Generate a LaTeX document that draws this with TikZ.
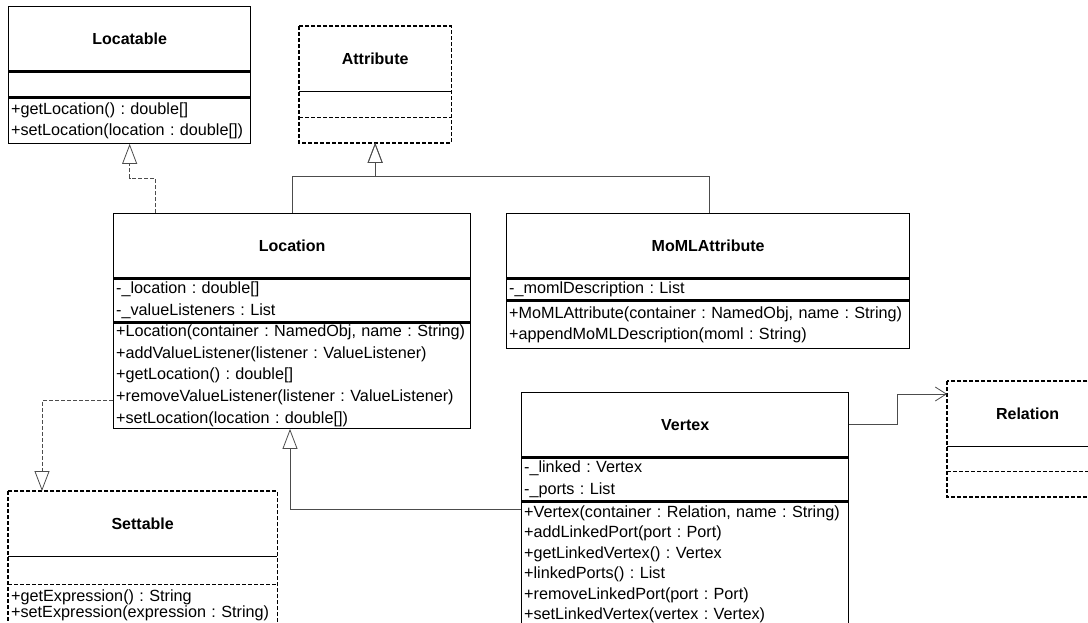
\documentclass[tikz,border=0pt]{standalone}
\usepackage{fontspec}
\setmainfont{Liberation Sans}
\usetikzlibrary{arrows.meta}
\frenchspacing

\begin{document}
\begin{tikzpicture}[x=1pt, y=-1pt,
  every node/.style={font=\fontsize{16.2}{21.6}\selectfont},
  box/.style={draw, line width=1.3pt, anchor=north west, inner sep=0pt},
  title/.style={box, font=\fontsize{16}{20}\selectfont\bfseries, minimum height=64pt},
  part/.style={box, align=left, inner xsep=2.5pt, inner ysep=0pt},
  iface/.style={draw=none},
  dashline/.style={line width=1.2pt, dash pattern=on 4pt off 2pt},
  link/.style={draw=black!70, line width=0.8pt},
  inherit/.style={link, -{Triangle[open, length=20pt, width=15pt]}},
  realize/.style={inherit, dash pattern=on 4pt off 2pt},
  assoc/.style={link, -{Straight Barb[length=11pt, width=14pt]}}]
  \useasboundingbox (0,0) rectangle (1088,622);
  \clip (0,0) rectangle (1088,622);
  % Locatable
  \node[title, minimum width=242pt] (locatable) at (8,6) {Locatable};
  \node[part, minimum width=242pt, minimum height=25pt] (locatable-a) at (locatable.south west) {};
  \node[part, text width=237pt, minimum height=45pt] (locatable-o) at (locatable-a.south west)
    {+getLocation() : double[]\\+setLocation(location : double[])};
  % Attribute
  \node[title, iface, minimum width=151pt] (attribute) at (299,26) {Attribute};
  \node[part, iface, minimum width=151pt, minimum height=25pt] (attribute-a) at (attribute.south west) {};
  \node[part, iface, minimum width=151pt, minimum height=24pt] (attribute-o) at (attribute-a.south west) {};
  % Location
  \node[title, minimum width=357pt] (location) at (113,213) {Location};
  \node[part, text width=352pt, minimum height=43pt] (location-a) at (location.south west)
    {-\_location : double[]\\-\_valueListeners : List};
  \node[part, text width=352pt, minimum height=105pt] (location-o) at (location-a.south west)
    {+Location(container : NamedObj, name : String)\\+addValueListener(listener : ValueListener)\\
     +getLocation() : double[]\\+removeValueListener(listener : ValueListener)\\+setLocation(location : double[])};
  % MoMLAttribute
  \node[title, minimum width=403pt] (moml) at (506,213) {MoMLAttribute};
  \node[part, text width=398pt, minimum height=21pt] (moml-a) at (moml.south west) {-\_momlDescription : List};
  \node[part, text width=398pt, minimum height=47pt] (moml-o) at (moml-a.south west)
    {+MoMLAttribute(container : NamedObj, name : String)\\+appendMoMLDescription(moml : String)};
  % Vertex
  \node[title, minimum width=327pt] (vertex) at (521,392) {Vertex};
  \node[part, text width=322pt, minimum height=43pt] (vertex-a) at (vertex.south west)
    {-\_linked : Vertex\\-\_ports : List};
  \node[part, text width=322pt, minimum height=124pt, font=\fontsize{16.2}{20.5}\selectfont]
    (vertex-o) at (vertex-a.south west)
    {+Vertex(container : Relation, name : String)\\+addLinkedPort(port : Port)\\+getLinkedVertex() : Vertex\\
     +linkedPorts() : List\\+removeLinkedPort(port : Port)\\+setLinkedVertex(vertex : Vertex)};
  % Relation
  \node[title, iface, minimum width=160pt] (relation) at (947,381) {Relation};
  \node[part, iface, minimum width=160pt, minimum height=24pt] (relation-a) at (relation.south west) {};
  \node[part, iface, minimum width=160pt, minimum height=24pt] (relation-o) at (relation-a.south west) {};
  % Settable
  \node[title, iface, minimum width=268pt] (settable) at (8,491) {Settable};
  \node[part, iface, minimum width=268pt, minimum height=27pt] (settable-a) at (settable.south west) {};
  \node[part, iface, text width=263pt, minimum height=40pt, font=\fontsize{16.2}{16.8}\selectfont]
    (settable-o) at (settable-a.south west)
    {+getExpression() : String\\+setExpression(expression : String)};
  % dashed outline of the interfaces
  \foreach \n in {attribute, relation, settable} {
    \draw[dashline] (\n.north west) rectangle (\n-o.south east);
    \draw[line width=1.3pt] (\n.south west) -- (\n.south east);
    \draw[dashline] (\n-a.south west) -- (\n-a.south east);
  }

  \draw[realize] ([xshift=42pt]location.north west) -- ++(0,-35) -| (locatable-o.south);
  \draw[inherit] ([xshift=179pt]location.north west) -- ++(0,-37) -| (attribute-o.south);
  \draw[inherit] ([xshift=203pt]moml.north west) -- ++(0,-37) -| (attribute-o.south);
  \draw[realize] ([yshift=-25pt]location-o.west) -| ([xshift=34pt]settable.north west);
  \draw[inherit] ([yshift=-8pt]vertex-o.north west) -| ([xshift=177pt]location-o.south west);
  \draw[assoc] (vertex.east) -- ++(48,0) |- ([yshift=-13pt]relation.north west);
\end{tikzpicture}
\end{document}
